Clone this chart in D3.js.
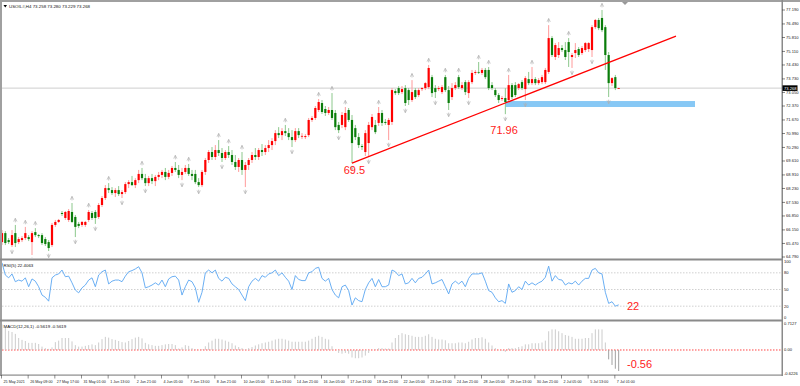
<!DOCTYPE html>
<html><head><meta charset="utf-8">
<script src="https://cdn.jsdelivr.net/npm/d3@7"></script>
<style>body{margin:0;background:#fff;overflow:hidden}svg{display:block}text{font-family:"Liberation Sans",Arial,sans-serif}</style>
</head><body><svg id="c" width="800" height="386"></svg>
<script>
// ---- DATA (USOIL H4) ----
const opens=[65.54,65.99,65.64,65.39,65.99,65.54,65.64,65.74,65.79,65.54,66.04,65.89,65.89,65.69,65.54,65.39,66.40,66.55,67.00,66.75,66.65,67.05,66.80,66.45,66.40,66.40,66.65,67.00,67.05,66.80,
67.40,67.75,68.25,68.15,68.00,68.15,67.95,68.05,68.45,68.55,68.40,68.65,68.96,68.75,68.50,68.75,68.60,68.81,68.91,69.06,68.81,69.01,69.26,69.16,68.91,69.06,69.26,68.96,68.96,68.55,
68.40,69.06,69.66,70.06,69.81,70.16,70.01,69.76,70.06,69.91,69.56,69.31,69.66,69.16,69.41,69.66,69.91,69.81,70.16,70.06,70.26,70.41,70.61,71.01,70.91,71.11,71.01,70.81,70.66,71.11,
70.86,70.81,70.91,71.67,71.77,72.17,72.52,72.22,72.02,72.17,72.02,71.42,71.42,71.31,72.17,71.67,71.26,70.81,70.36,70.06,70.51,71.31,71.42,71.52,72.02,71.57,71.42,71.57,73.12,73.27,
73.07,73.27,73.17,72.67,73.17,72.92,73.22,73.27,73.32,73.82,73.27,73.22,73.07,73.82,73.17,72.82,73.27,73.82,73.27,73.57,73.02,73.57,74.03,74.08,74.03,74.18,74.18,73.42,73.17,72.92,
72.72,72.77,72.67,73.42,73.42,73.27,73.57,73.22,73.72,73.52,73.72,73.52,73.57,73.57,74.08,75.78,74.83,74.93,75.28,75.18,75.58,74.83,75.03,75.23,75.03,75.18,75.23,75.18,76.33,76.69,
76.79,76.33,74.93,73.52,73.82,73.258];
const highs=[66.14,66.09,65.74,66.14,66.40,65.79,65.84,66.30,65.89,66.09,66.24,65.94,65.99,65.79,65.64,66.50,66.65,66.70,67.10,67.10,67.20,67.50,66.90,66.55,66.60,66.60,67.15,67.10,67.15,67.50,
67.85,68.40,68.50,68.30,68.25,68.35,68.15,68.55,68.65,68.86,68.75,69.16,69.26,68.96,68.86,68.96,68.91,69.06,69.16,69.26,69.16,69.36,69.56,69.41,69.26,69.41,69.46,69.16,69.16,68.75,
69.16,69.76,70.16,70.31,70.41,70.66,70.26,70.16,70.36,70.16,69.91,69.76,70.06,69.56,69.76,70.06,70.26,70.26,70.46,70.41,70.66,70.76,71.16,71.31,71.26,71.42,71.26,71.16,71.26,71.26,
71.01,70.96,71.77,71.87,72.37,72.72,72.67,72.37,72.32,73.02,72.17,71.57,72.07,72.32,72.27,71.92,71.42,71.01,70.46,71.16,71.57,71.97,71.67,72.32,72.17,71.72,71.77,73.27,73.22,73.37,
73.37,73.42,73.27,73.67,73.27,73.27,73.32,73.57,74.43,73.93,73.42,73.37,73.42,73.93,73.37,73.52,73.57,73.93,73.57,73.67,73.67,74.18,74.18,74.58,74.28,74.28,74.33,73.57,73.27,73.02,
72.87,73.27,73.93,73.52,73.57,73.52,73.67,73.87,74.08,74.33,73.82,73.77,73.93,74.28,76.43,75.88,75.53,75.58,75.43,75.58,75.78,75.03,75.53,75.33,75.38,75.58,75.58,76.43,76.74,76.79,
77.19,76.43,75.08,73.82,73.93,73.280];
const lows=[65.39,65.39,65.44,65.29,65.29,65.44,65.54,65.64,65.59,64.89,65.79,65.74,65.39,65.34,65.09,65.29,66.30,66.50,66.85,66.65,66.55,66.50,65.79,66.24,66.30,66.30,66.55,66.65,66.45,66.70,
67.30,67.65,68.00,67.90,67.80,67.85,67.75,67.95,68.25,68.35,68.25,68.50,68.65,68.35,68.35,68.45,68.35,68.65,68.75,68.65,68.70,68.86,69.06,68.75,68.65,68.96,68.86,68.65,68.45,68.30,
68.30,68.91,69.51,69.66,69.66,69.86,69.56,69.66,69.76,69.41,69.16,69.06,68.91,68.30,69.16,69.51,69.66,69.66,69.86,69.91,70.06,70.16,70.41,70.76,70.66,70.86,70.66,70.31,70.56,70.76,
70.71,70.71,70.81,71.57,71.67,72.07,71.97,71.87,71.92,71.67,71.16,71.01,71.26,71.16,71.57,69.50,70.66,70.26,70.16,69.86,69.81,71.16,70.96,71.37,71.37,71.42,70.66,71.42,72.92,72.92,
72.97,72.37,72.42,72.57,72.72,72.82,73.12,73.17,73.22,72.82,72.77,73.12,72.97,73.07,72.17,72.67,73.17,73.22,73.17,72.92,72.77,73.47,73.93,73.98,73.93,73.72,73.17,73.17,72.82,72.52,
72.62,71.96,72.52,72.72,72.82,73.17,73.17,72.67,73.42,73.42,73.42,73.42,73.47,73.47,73.98,74.83,74.68,74.78,75.08,74.68,74.33,74.28,74.78,74.83,74.93,75.08,75.08,74.83,76.23,76.18,
76.08,74.18,72.82,73.37,73.17,73.229];
const closes=[65.99,65.49,65.54,65.89,65.49,65.69,65.74,65.99,65.69,65.99,65.89,65.84,65.49,65.44,65.24,66.40,66.55,66.65,66.95,67.05,67.10,66.55,66.30,66.35,66.55,66.55,67.05,66.75,66.75,67.40,
67.75,68.25,68.15,68.00,68.15,67.95,68.05,68.45,68.55,68.40,68.65,68.96,68.75,68.50,68.75,68.60,68.81,68.91,69.06,68.81,69.01,69.26,69.16,68.91,69.06,69.26,68.96,68.86,68.55,68.40,
69.06,69.66,70.06,69.81,70.16,70.01,69.76,70.06,69.91,69.56,69.31,69.66,69.16,69.41,69.66,69.91,69.81,70.16,70.06,70.26,70.41,70.61,71.01,70.91,71.11,71.01,70.81,70.66,71.11,70.91,
70.87,70.86,71.67,71.77,72.27,72.57,72.07,72.02,72.17,71.77,71.31,71.16,71.92,72.02,71.67,70.51,70.81,70.41,70.31,71.01,71.42,71.82,71.06,72.02,71.52,71.52,71.67,73.17,73.02,73.02,
73.22,72.52,72.67,73.07,72.82,73.17,73.27,73.52,74.28,73.02,73.07,73.27,73.32,73.17,72.52,73.27,73.42,73.32,73.42,73.07,73.57,74.03,74.08,74.07,74.18,73.82,73.27,73.27,72.92,72.67,
72.77,72.57,73.42,72.82,72.92,73.47,73.27,73.77,73.52,73.72,73.52,73.67,73.82,74.18,75.78,74.93,75.43,75.28,75.18,74.83,75.08,74.93,75.18,74.93,75.28,75.53,75.53,76.33,76.69,76.28,
76.18,74.93,73.52,73.77,73.27,73.268];
const rsiValues=[98,76,71,78,64,67,65,71,55,69,65,55,40,36,29,71,76,78,85,73,74,62,49,44,53,58,67,71,55,76,
82,85,60,65,67,67,64,74,82,84,87,91,80,53,55,58,62,58,67,55,69,73,74,67,40,55,67,64,53,27,
45,80,85,80,85,70,65,72,70,60,55,50,40,30,55,65,70,65,75,72,78,80,85,75,80,72,65,50,75,68,
66,66,80,82,88,90,70,65,70,50,40,35,55,58,48,22,35,30,28,50,62,70,55,68,55,55,58,85,82,75,
78,60,62,70,62,70,72,78,85,60,62,65,68,55,42,60,65,60,65,55,70,78,78,78,80,65,48,45,35,28,
30,25,60,45,48,55,50,65,58,62,58,62,65,72,92,65,75,68,67,58,62,60,65,58,65,70,70,85,88,80,
78,45,25,28,20,22.41];
const macdValues=[0.68,0.61,0.51,0.48,0.43,0.32,0.27,0.24,0.19,0.19,0.19,0.16,0.09,0.05,0.03,0.07,0.21,0.25,0.32,0.32,0.32,0.23,0.13,0.09,0.09,0.11,0.13,0.15,0.13,0.20,
0.29,0.35,0.33,0.29,0.27,0.24,0.21,0.20,0.24,0.29,0.33,0.35,0.31,0.19,0.15,0.13,0.11,0.11,0.13,0.15,0.16,0.16,0.13,0.04,0.07,0.13,0.11,0.05,0.02,0.00,
0.02,0.10,0.20,0.25,0.30,0.30,0.28,0.25,0.22,0.18,0.12,0.08,0.05,0.02,0.05,0.08,0.12,0.15,0.18,0.20,0.22,0.25,0.28,0.30,0.30,0.28,0.25,0.22,0.22,0.22,
0.22,0.22,0.25,0.30,0.35,0.38,0.35,0.30,0.28,0.10,0.00,-0.08,-0.10,-0.08,-0.10,-0.20,-0.22,-0.22,-0.20,-0.15,-0.08,0.00,0.02,0.05,0.05,0.04,0.04,0.20,0.32,0.40,
0.45,0.42,0.40,0.38,0.35,0.35,0.35,0.38,0.42,0.35,0.30,0.28,0.28,0.26,0.18,0.18,0.18,0.20,0.20,0.18,0.22,0.28,0.32,0.32,0.34,0.30,0.20,0.12,0.05,0.00,
-0.02,-0.05,0.05,0.05,0.05,0.08,0.10,0.15,0.15,0.18,0.18,0.18,0.20,0.25,0.50,0.55,0.55,0.50,0.45,0.40,0.38,0.35,0.30,0.30,0.30,0.32,0.32,0.45,0.55,0.55,
0.55,0.20,-0.25,-0.40,-0.50,-0.5619];
const timeLabels=["25 May 2021","26 May 09:00","27 May 17:00","31 May 01:00","1 Jun 13:00","2 Jun 21:00","4 Jun 05:00","7 Jun 13:00","8 Jun 21:00","10 Jun 05:00","11 Jun 13:00","14 Jun 21:00","16 Jun 05:00","17 Jun 13:00","18 Jun 21:00","22 Jun 05:00","23 Jun 13:00","24 Jun 21:00","28 Jun 05:00","29 Jun 13:00","30 Jun 21:00","2 Jul 05:00","5 Jul 13:00","7 Jul 01:00"];
const priceTicks=[77.19,76.49,75.81,75.11,74.43,73.73,73.05,72.37,71.67,70.99,70.29,69.61,68.91,68.23,67.53,66.85,66.15,65.47,64.79];
const rsiTicks=[100,80,50,20,0];
const rsiLevels=[80,50,20];
const macdTicks=[0.7127,0,-0.6226];
const trendLine=[{bar:105,price:69.50},{bar:202.2,price:75.88}];
const supportZone={bar0:151,bar1:207.9,top:72.62,bottom:72.32};
const notes=[{pane:"p",bar:102.5,v:68.95,t:"69.5"},{pane:"p",bar:146.5,v:70.99,t:"71.96"},{pane:"r",bar:187.5,v:13,t:"22"},{pane:"m",bar:187.5,v:-0.47,t:"-0.56"}];
const title="USOIL#,H4  73.258 73.280 73.229 73.268";
const lastPrice=73.268;

// ---- SCALES ----
const svg=d3.select("#c");
const N=closes.length;
const x=d3.scaleLinear().domain([0,234]).range([2,782]);
const yP=d3.scaleLinear().domain([64.79,77.19]).range([257,10]);
const yR=d3.scaleLinear().domain([0,100]).range([317.3,261.7]);
const yM=d3.scaleLinear().domain([-0.6226,0.7127]).range([373.3,323.3]);
const RED="#ff0000",GRN="#0a7d0a";

svg.append("rect").attr("width",800).attr("height",386).attr("fill","#fff");
const defs=svg.append("defs");
defs.append("clipPath").attr("id","cp").append("rect").attr("x",2).attr("y",2).attr("width",780).attr("height",256);
const main=svg.append("g").attr("clip-path","url(#cp)");

// support zone
main.append("rect").attr("x",x(supportZone.bar0)).attr("y",yP(supportZone.top))
 .attr("width",x(supportZone.bar1)-x(supportZone.bar0)).attr("height",yP(supportZone.bottom)-yP(supportZone.top))
 .attr("fill","#87c8f5");
// last price line
main.append("line").attr("x1",2).attr("x2",782).attr("y1",yP(lastPrice)).attr("y2",yP(lastPrice)).attr("stroke","#cfcfcf").attr("stroke-width",1);

// candles
const idx=d3.range(N);
main.selectAll(".wk").data(idx).join("line")
 .attr("x1",i=>x(i)).attr("x2",i=>x(i)).attr("y1",i=>yP(highs[i])).attr("y2",i=>yP(lows[i]))
 .attr("stroke",i=>closes[i]>=opens[i]?"#ff9a9a":"#8cc88c").attr("stroke-width",1);
main.selectAll(".bd").data(idx).join("rect")
 .attr("x",i=>x(i)-1.1).attr("width",2.2)
 .attr("y",i=>yP(Math.max(opens[i],closes[i])))
 .attr("height",i=>Math.max(0.8,Math.abs(yP(opens[i])-yP(closes[i]))))
 .attr("fill",i=>closes[i]>=opens[i]?RED:GRN);

// fractals
const upF=idx.filter(i=>i>=2&&i<N-2&&highs[i]>highs[i-1]&&highs[i]>highs[i-2]&&highs[i]>=highs[i+1]&&highs[i]>=highs[i+2]);
const dnF=idx.filter(i=>i>=2&&i<N-2&&lows[i]<lows[i-1]&&lows[i]<lows[i-2]&&lows[i]<=lows[i+1]&&lows[i]<=lows[i+2]);
main.selectAll(".uf").data(upF).join("path")
 .attr("d",i=>{const cx=x(i),cy=yP(highs[i])-5;return `M${cx-1.6},${cy+1.6}L${cx},${cy-1.6}L${cx+1.6},${cy+1.6}M${cx},${cy-1.6}V${cy+2.4}`;})
 .attr("fill","none").attr("stroke","#b0b0b0").attr("stroke-width",0.7);
main.selectAll(".df").data(dnF).join("path")
 .attr("d",i=>{const cx=x(i),cy=yP(lows[i])+5;return `M${cx-1.6},${cy-1.6}L${cx},${cy+1.6}L${cx+1.6},${cy-1.6}M${cx},${cy+1.6}V${cy-2.4}`;})
 .attr("fill","none").attr("stroke","#b0b0b0").attr("stroke-width",0.7);

// trend line
main.append("line").attr("x1",x(trendLine[0].bar)).attr("y1",yP(trendLine[0].price))
 .attr("x2",x(trendLine[1].bar)).attr("y2",yP(trendLine[1].price)).attr("stroke",RED).attr("stroke-width",1.2);

// ---- RSI ----
svg.selectAll(".rl").data(rsiLevels).join("line").attr("x1",2).attr("x2",782)
 .attr("y1",d=>yR(d)).attr("y2",d=>yR(d)).attr("stroke","#c4c4c4").attr("stroke-dasharray","1.5,1.5").attr("stroke-width",0.8);
svg.append("path").datum(rsiValues).attr("fill","none").attr("stroke","#5aa6f2").attr("stroke-width",0.9)
 .attr("d",d3.line().x((d,i)=>x(i)).y(d=>yR(d)));

// ---- MACD ----
svg.append("line").attr("x1",2).attr("x2",782).attr("y1",yM(0)).attr("y2",yM(0))
 .attr("stroke","#ff3030").attr("stroke-dasharray","1.5,1.5").attr("stroke-width",0.9);
svg.selectAll(".mb").data(idx).join("line")
 .attr("x1",i=>x(i)).attr("x2",i=>x(i)).attr("y1",yM(0)).attr("y2",i=>yM(macdValues[i]))
 .attr("stroke",i=>macdValues[i]<0&&i>N-6?"#a0a0a0":"#cccccc").attr("stroke-width",1);

// ---- FRAME ----
const G="#8a8a8a";
svg.append("rect").attr("x",0).attr("y",0).attr("width",800).attr("height",2).attr("fill","#a0a0a0");
svg.append("rect").attr("x",0).attr("y",0).attr("width",2).attr("height",376).attr("fill","#a0a0a0");
[258.5,319.5].forEach(yy=>svg.append("rect").attr("x",0).attr("y",yy).attr("width",783).attr("height",2).attr("fill",G));
svg.append("rect").attr("x",0).attr("y",374.5).attr("width",783).attr("height",1.2).attr("fill",G);
svg.append("rect").attr("x",781.5).attr("y",0).attr("width",1.5).attr("height",376).attr("fill",G);

// price axis
const ax=svg.append("g");
ax.selectAll(".pt").data(priceTicks).join("line").attr("x1",782).attr("x2",785).attr("y1",d=>yP(d)).attr("y2",d=>yP(d)).attr("stroke","#333").attr("stroke-width",0.6);
ax.selectAll(".pl").data(priceTicks).join("text").attr("x",786).attr("y",d=>yP(d)).attr("dy","0.35em")
 .attr("font-size",4.1).attr("fill","#222").text(d=>d.toFixed(3));
ax.append("rect").attr("x",782.5).attr("y",yP(lastPrice)-2.8).attr("width",15).attr("height",5.6).attr("fill","#000");
ax.append("text").attr("x",784).attr("y",yP(lastPrice)).attr("dy","0.35em").attr("font-size",4.1).attr("fill","#fff").text(lastPrice.toFixed(3));
ax.selectAll(".rt").data(rsiTicks).join("text").attr("x",784).attr("y",d=>yR(d)).attr("dy","0.35em")
 .attr("font-size",4.1).attr("fill","#222").text(d=>d);
ax.selectAll(".mt").data(macdTicks).join("text").attr("x",784).attr("y",d=>yM(d)).attr("dy","0.35em")
 .attr("font-size",4.1).attr("fill","#222").text(d=>d===0?"0.00":d.toFixed(4));

// time axis
const tx=svg.append("g");
tx.selectAll(".tt").data(timeLabels).join("line").attr("x1",(d,i)=>x(i*8)-0.5).attr("x2",(d,i)=>x(i*8)-0.5)
 .attr("y1",375).attr("y2",378.5).attr("stroke","#444").attr("stroke-width",0.6);
tx.selectAll(".tl").data(timeLabels).join("text").attr("x",(d,i)=>x(i*8)+1.5).attr("y",382.5)
 .attr("font-size",3.7).attr("fill","#222").text(d=>d);

// titles
svg.append("path").attr("d","M3.5,5L7,5L5.25,7.5Z").attr("fill","#000");
svg.append("text").attr("x",9).attr("y",7.6).attr("font-size",4.4).attr("fill","#111").text(title);
svg.append("text").attr("x",3.5).attr("y",266.5).attr("font-size",4.4).attr("fill","#111").text("RSI(5) 22.4063");
svg.append("text").attr("x",3.5).attr("y",327.5).attr("font-size",4.4).attr("fill","#111").text("MACD(12,26,1) -0.5619 -0.5619");
// chart shift marker
svg.append("path").attr("d","M622,2L628,2L625,5Z").attr("fill","#999");

// annotations
const py={p:yP,r:yR,m:yM};
svg.selectAll(".an").data(notes).join("text").attr("x",d=>x(d.bar)).attr("y",d=>py[d.pane](d.v))
 .attr("font-size",11).attr("fill","#ff1a1a").text(d=>d.t);
</script></body></html>
